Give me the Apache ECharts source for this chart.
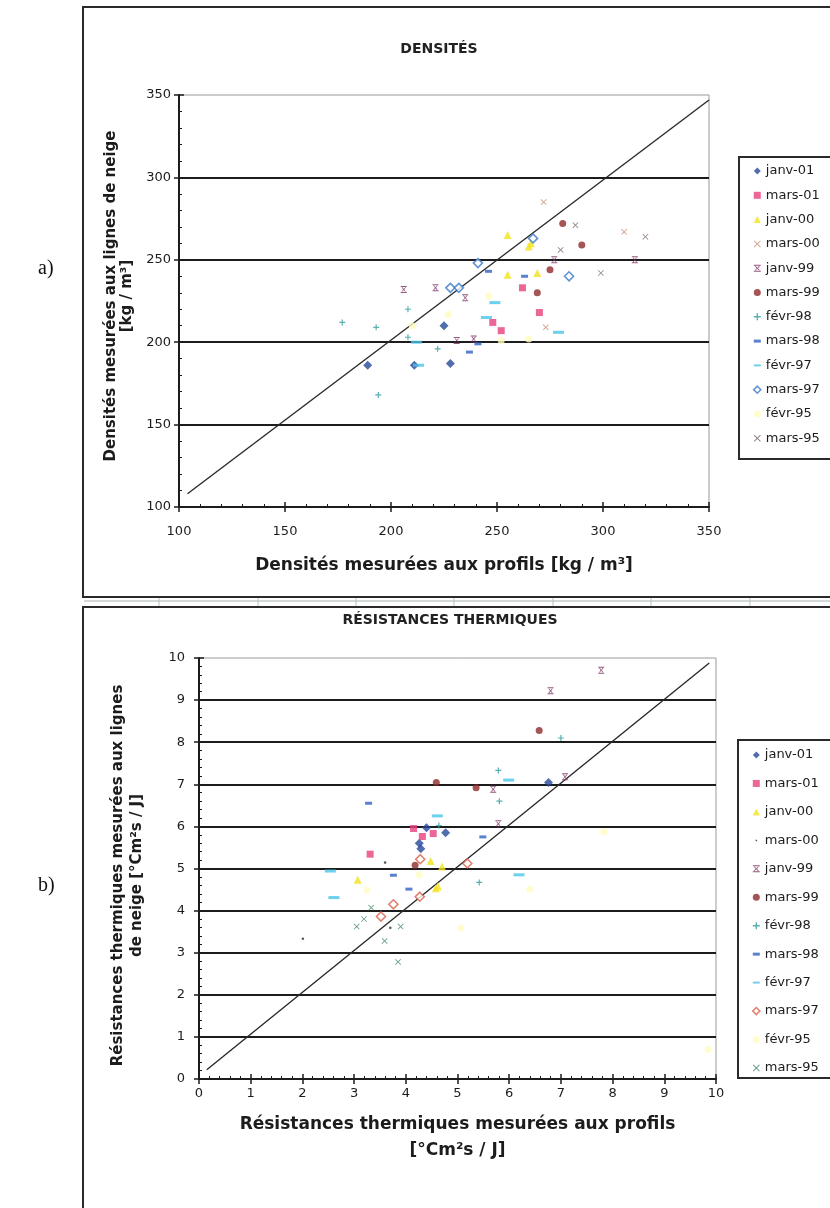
<!DOCTYPE html>
<html>
<head>
<meta charset="utf-8">
<script src="https://cdn.jsdelivr.net/npm/echarts@6/dist/echarts.min.js"></script>
<style>
  html, body { margin: 0; padding: 0; background: #fff; }
  #chart { width: 830px; height: 1208px; }
</style>
</head>
<body>
<div id="chart"></div>
<script>
// ---- Campaign names (legend order) ----
const campaigns = ['janv-01', 'mars-01', 'janv-00', 'mars-00', 'janv-99', 'mars-99',
                   'févr-98', 'mars-98', 'févr-97', 'mars-97', 'févr-95', 'mars-95'];

// ---- a) Densities [kg/m3]: [profile, snow line] ----
const densJanv01 = [[189, 186], [211, 186], [228, 187], [225, 210]];
const densMars01 = [[262, 233], [270, 218], [248, 212], [252, 207]];
const densJanv00 = [[255, 265], [265, 258], [266, 260], [255, 241], [269, 242]];
const densMars00 = [[272, 285], [310, 267], [273, 209]];
const densJanv99 = [[206, 232], [221, 233], [235, 227], [239, 202], [231, 201], [277, 250], [315, 250]];
const densMars99 = [[281, 272], [290, 259], [275, 244], [269, 230]];
const densFevr98 = [[177, 212], [193, 209], [208, 220], [208, 203], [222, 196], [194, 168]];
const densMars98 = [[246, 243], [263, 240], [241, 199], [237, 194]];
const densFevr97 = [[249, 224], [245, 215], [212, 200], [213, 186], [279, 206]];
const densMars97 = [[267, 263], [241, 248], [228, 233], [232, 233], [284, 240]];
const densFevr95 = [[227, 217], [210, 210], [246, 228], [252, 201], [265, 202]];
const densMars95 = [[287, 271], [280, 256], [320, 264], [299, 242]];
const densReference = [[104, 108], [350, 347]];
const densAxis = [100, 350, 50];   // min, max, step

// ---- b) Thermal resistances [°Cm²s/J]: [profile, snow line] ----
const resJanv01 = [[6.76, 7.04], [4.77, 5.85], [4.26, 5.6], [4.29, 5.47], [4.4, 5.97]];
const resMars01 = [[4.15, 5.95], [4.32, 5.76], [4.53, 5.83], [3.31, 5.34]];
const resJanv00 = [[4.48, 5.18], [4.7, 5.05], [3.07, 4.73], [4.58, 4.53], [4.62, 4.58]];
const resMars00 = [[3.6, 5.14], [2.01, 3.33], [3.7, 3.59]];
const resJanv99 = [[7.78, 9.71], [6.8, 9.22], [5.69, 6.88], [5.79, 6.06], [7.08, 7.18]];
const resMars99 = [[6.58, 8.28], [4.59, 7.04], [5.36, 6.92], [4.18, 5.08]];
const resFevr98 = [[7.0, 8.1], [5.79, 7.33], [5.81, 6.6], [5.42, 4.67], [4.64, 6.02]];
const resMars98 = [[3.28, 6.55], [5.49, 5.75], [3.76, 4.84], [4.06, 4.51]];
const resFevr97 = [[4.61, 6.25], [5.99, 7.1], [2.54, 4.94], [2.61, 4.31], [6.19, 4.85]];
const resMars97 = [[4.28, 5.22], [5.19, 5.12], [4.27, 4.33], [3.76, 4.15], [3.52, 3.86]];
const resFevr95 = [[7.83, 5.87], [4.26, 4.85], [3.25, 4.49], [6.4, 4.51], [5.06, 3.58], [9.85, 0.7]];
const resMars95 = [[3.33, 4.07], [3.19, 3.8], [3.05, 3.62], [3.9, 3.62], [3.59, 3.28], [3.85, 2.78]];
const resReference = [[0.15, 0.22], [9.87, 9.88]];
const resAxis = [0, 10, 1];

const densSeriesData = [densJanv01, densMars01, densJanv00, densMars00, densJanv99, densMars99,
                        densFevr98, densMars98, densFevr97, densMars97, densFevr95, densMars95];
const resSeriesData = [resJanv01, resMars01, resJanv00, resMars00, resJanv99, resMars99,
                       resFevr98, resMars98, resFevr97, resMars97, resFevr95, resMars95];

// ---- Marker shapes ----
const FONT = 'DejaVu Sans';
const INK = '#1c1c1c';
const CROSS = 'path://M0,1L1,0L5,4L9,0L10,1L6,5L10,9L9,10L5,6L1,10L0,9L4,5Z';
const PLUS = 'path://M4,0H6V4H10V6H6V10H4V6H0V4H4Z';
const STAR = 'path://M0,0H10V1.4H0ZM0,8.6H10V10H0ZM1.5,2.2L2.5,1.6L5,4.2L7.5,1.6L8.5,2.2L6,5L8.5,7.8L7.5,8.4L5,5.8L2.5,8.4L1.5,7.8L4,5Z';
const DASH = 'path://M0,0H7V3H0Z';
const LONGDASH = 'path://M0,0H11V3H0Z';
const DOT = 'path://M0,0L0.01,0ZM10,10L10.01,10ZM4,4H6.2V6.2H4Z';

function filled(symbol, size, color, icon) {
  return { symbol, size, icon: icon || symbol, itemStyle: { color } };
}
function hollow(symbol, size, color) {
  return { symbol, size, icon: symbol, itemStyle: { color: '#fff', borderColor: color, borderWidth: 1.6 } };
}

const densStyles = [
  filled('diamond', 9, '#27489a'),
  filled('rect', 7, '#e8407e'),
  filled('triangle', 8, '#f2e21c'),
  filled(CROSS, 6, '#c48a70'),
  filled(STAR, [6, 7], '#7a2e62'),
  filled('circle', 7, '#8e2a2a'),
  filled(PLUS, 6, '#2e9c9c'),
  filled(DASH, [7, 3], '#2f62c0'),
  filled(LONGDASH, [11, 3], '#48c4e8'),
  hollow('diamond', 9, '#3a78c8'),
  filled('circle', 7, '#fffcc0'),
  filled(CROSS, 6, '#7a6468')
];
const resStyles = [
  filled('diamond', 9, '#27489a'),
  filled('rect', 7, '#e8407e'),
  filled('triangle', 8, '#f2e21c'),
  filled('circle', 2.6, '#333333', DOT),
  filled(STAR, [6, 7], '#7a2e62'),
  filled('circle', 7, '#8e2a2a'),
  filled(PLUS, 6, '#2e9c9c'),
  filled(DASH, [7, 3], '#2f62c0'),
  filled(LONGDASH, [11, 3], '#48c4e8'),
  hollow('diamond', 9, '#d8604a'),
  filled('circle', 7, '#fffcc0'),
  filled(CROSS, 6, '#3e8a66')
];

// ---- Axis builders: main axis + a tick-only twin so major ticks cross the axis line ----
const tickLine = { color: INK, width: 1.5 };
const tickFont = { fontSize: 13, color: INK, fontFamily: FONT };
function mainAxis(gridIndex, range, position, extra) {
  return Object.assign({
    type: 'value', gridIndex, position,
    min: range[0], max: range[1], interval: range[2],
    axisLine: { show: true, onZero: false, lineStyle: { color: INK, width: 2 } },
    axisTick: { show: true, inside: true, length: 5, lineStyle: tickLine },
    minorTick: { show: true, splitNumber: 5, length: 3, lineStyle: { color: INK, width: 1 } },
    nameLocation: 'middle'
  }, extra);
}
function twinAxis(gridIndex, range, position) {
  return {
    type: 'value', gridIndex, position,
    min: range[0], max: range[1], interval: range[2],
    axisLine: { show: false, onZero: false },
    axisTick: { show: true, inside: false, length: 5, lineStyle: tickLine },
    axisLabel: { show: false },
    splitLine: { show: false }
  };
}
const gridLines = { show: true, showMinLine: false, showMaxLine: false, lineStyle: { color: INK, width: 2 } };
const xTitle = { fontSize: 17, fontWeight: 'bold', fontFamily: FONT, color: INK, lineHeight: 26 };

// ---- Series ----
const series = [];
function addChart(dataSets, styles, xIdx, yIdx, reference) {
  series.push({
    type: 'line', xAxisIndex: xIdx, yAxisIndex: yIdx, data: reference,
    symbol: 'none', silent: true, z: 1,
    lineStyle: { color: '#2a2a2a', width: 1.4 }
  });
  dataSets.forEach((data, i) => {
    const st = styles[i];
    series.push({
      type: 'scatter', name: campaigns[i], xAxisIndex: xIdx, yAxisIndex: yIdx,
      data, symbol: st.symbol, symbolSize: st.size, itemStyle: st.itemStyle, z: 3
    });
  });
}
addChart(densSeriesData, densStyles, 0, 0, densReference);
addChart(resSeriesData, resStyles, 2, 2, resReference);

function legendData(styles) {
  return campaigns.map((name, i) => ({ name, icon: styles[i].icon, itemStyle: styles[i].itemStyle }));
}
const legendBase = {
  orient: 'vertical', itemWidth: 7, itemHeight: 7, selectedMode: false,
  textStyle: { fontSize: 13, color: INK, fontFamily: FONT }
};

const chart = echarts.init(document.getElementById('chart'), null, { renderer: 'canvas' });
chart.setOption({
  backgroundColor: '#ffffff',
  animation: false,
  title: [
    { text: 'DENSITÉS', left: 434, top: 37, textAlign: 'center',
      textStyle: { fontSize: 14, fontWeight: 'bold', fontFamily: FONT, color: '#222' } },
    { text: 'RÉSISTANCES THERMIQUES', left: 445, top: 608, textAlign: 'center',
      textStyle: { fontSize: 14, fontWeight: 'bold', fontFamily: FONT, color: '#222' } }
  ],
  grid: [
    { left: 179, top: 95, width: 530, height: 412, show: true,
      backgroundColor: '#fff', borderColor: '#9a9a9a', borderWidth: 1 },
    { left: 199, top: 658, width: 517, height: 421, show: true,
      backgroundColor: '#fff', borderColor: '#9a9a9a', borderWidth: 1 }
  ],
  xAxis: [
    mainAxis(0, densAxis, 'bottom', {
      axisLabel: Object.assign({ margin: 18 }, tickFont),
      splitLine: { show: false },
      name: 'Densités mesurées aux profils [kg / m³]', nameGap: 46,
      nameTextStyle: xTitle
    }),
    twinAxis(0, densAxis, 'bottom'),
    mainAxis(1, resAxis, 'bottom', {
      axisLabel: Object.assign({ margin: 8 }, tickFont),
      splitLine: { show: false },
      name: 'Résistances thermiques mesurées aux profils\n[°Cm²s / J]', nameGap: 33,
      nameTextStyle: xTitle
    }),
    twinAxis(1, resAxis, 'bottom')
  ],
  yAxis: [
    mainAxis(0, densAxis, 'left', {
      axisLabel: Object.assign({ margin: 8 }, tickFont),
      splitLine: gridLines,
      name: 'Densités mesurées aux lignes de neige\n[kg / m³]', nameGap: 42, nameRotate: 90,
      nameTextStyle: { fontSize: 15, fontWeight: 'bold', fontFamily: FONT, color: INK,
                       lineHeight: 16, padding: [0, 0, 0, 10] }
    }),
    twinAxis(0, densAxis, 'left'),
    mainAxis(1, resAxis, 'left', {
      axisLabel: Object.assign({ margin: 14 }, tickFont),
      splitLine: gridLines,
      name: 'Résistances thermiques mesurées aux lignes\nde neige [°Cm²s / J]', nameGap: 52, nameRotate: 90,
      nameTextStyle: { fontSize: 15, fontWeight: 'bold', fontFamily: FONT, color: INK,
                       lineHeight: 19, padding: [0, 14, 0, 0] }
    }),
    twinAxis(1, resAxis, 'left')
  ],
  legend: [
    Object.assign({ data: legendData(densStyles), left: 748, top: 159.5, itemGap: 11.3 }, legendBase),
    Object.assign({ data: legendData(resStyles), left: 747, top: 743.5, itemGap: 15.45 }, legendBase)
  ],
  graphic: [
    // chart frames and the strip between them
    { type: 'rect', z: -10, shape: { x: 83, y: 7, width: 770, height: 590 },
      style: { fill: 'none', stroke: '#2a2a2a', lineWidth: 2 } },
    { type: 'rect', z: -10, shape: { x: 83, y: 607, width: 770, height: 640 },
      style: { fill: 'none', stroke: '#2a2a2a', lineWidth: 2 } },
    { type: 'line', z: -10, shape: { x1: 84, y1: 601, x2: 830, y2: 601 },
      style: { stroke: '#a8b0b0', lineWidth: 1 } },
    ...[159, 258, 356, 454, 553, 651, 750].map(x => ({
      type: 'line', z: -10, shape: { x1: x, y1: 598, x2: x, y2: 606 },
      style: { stroke: '#b8c0c0', lineWidth: 1 }
    })),
    // legend frames
    { type: 'rect', z: 2, shape: { x: 739, y: 157, width: 120, height: 302 },
      style: { fill: '#fff', stroke: '#2a2a2a', lineWidth: 2 } },
    { type: 'rect', z: 2, shape: { x: 738, y: 740, width: 120, height: 338 },
      style: { fill: '#fff', stroke: '#2a2a2a', lineWidth: 2 } },
    // panel labels
    { type: 'text', left: 38, top: 259,
      style: { text: 'a)', font: '20px "Liberation Serif"', fill: '#111' } },
    { type: 'text', left: 38, top: 876,
      style: { text: 'b)', font: '20px "Liberation Serif"', fill: '#111' } }
  ],
  series
});
</script>
</body>
</html>
